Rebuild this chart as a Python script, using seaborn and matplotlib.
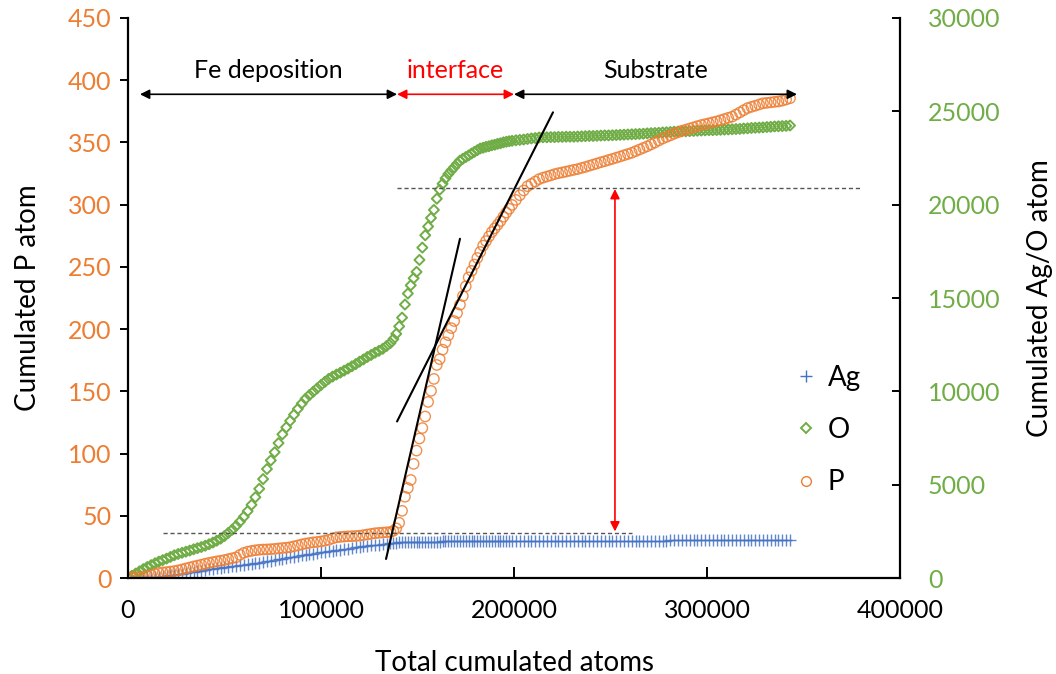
import matplotlib
matplotlib.use("Agg")
import matplotlib.pyplot as plt
import pandas as pd
import seaborn as sns
from matplotlib.lines import Line2D

# ---- cumulated atom counts along the depth profile ----
total_atoms = [
    0, 2000, 4000, 6000, 8000, 10000, 12000, 14000, 16000, 18000,
    20000, 22000, 24000, 26000, 28000, 30000, 32000, 34000, 36000, 38000,
    40000, 42000, 44000, 46000, 48000, 50000, 52000, 54000, 56000, 58000,
    60000, 62000, 64000, 66000, 68000, 70000, 72000, 74000, 76000, 78000,
    80000, 82000, 84000, 86000, 88000, 90000, 92000, 94000, 96000, 98000,
    100000, 102000, 104000, 106000, 108000, 110000, 112000, 114000, 116000, 118000,
    120000, 122000, 124000, 126000, 128000, 130000, 132000, 134000, 136000,
    137500, 139000, 140500, 142000, 143500, 145000, 146500, 148000, 149500, 151000,
    152500, 154000, 155500, 157000, 158500, 160000, 161500, 163000, 164500, 166000,
    167500, 169000, 170500, 172000, 173500, 175000, 176500, 178000, 179500, 181000,
    182500, 184000, 185500, 187000, 188500, 190000, 191500, 193000, 194500, 196000,
    197500, 199000,
    201000, 203000, 205000, 207000, 209000, 211000, 213000, 215000, 217000, 219000,
    221000, 223000, 225000, 227000, 229000, 231000, 233000, 235000, 237000, 239000,
    241000, 243000, 245000, 247000, 249000, 251000, 253000, 255000, 257000, 259000,
    261000, 263000, 265000, 267000, 269000, 271000, 273000, 275000, 277000, 279000,
    281000, 283000, 285000, 287000, 289000, 291000, 293000, 295000, 297000, 299000,
    301000, 303000, 305000, 307000, 309000, 311000, 313000, 315000, 317000, 319000,
    321000, 323000, 325000, 327000, 329000, 331000, 333000, 335000, 337000, 339000,
    341000, 343000,
]

cum_O = [
    0, 120, 240, 360, 480, 590, 690, 790, 880, 960,
    1040, 1130, 1220, 1290, 1350, 1410, 1470, 1540, 1600, 1660,
    1730, 1810, 1900, 2000, 2110, 2250, 2420, 2590, 2790, 3020,
    3280, 3580, 3920, 4330, 4780, 5300, 5840, 6300, 6740, 7230,
    7700, 8070, 8420, 8750, 9060, 9340, 9600, 9800, 9980, 10160,
    10340, 10510, 10670, 10790, 10900, 11000, 11110, 11220, 11340, 11460,
    11590, 11710, 11840, 11950, 12070, 12170, 12280, 12430, 12590,
    12800, 13080, 13480, 13950, 14650, 15240, 15680, 16060, 16400, 17040,
    17700, 18360, 18830, 19290, 19720, 20320, 20800, 21120, 21410, 21640,
    21830, 22000, 22190, 22360, 22460, 22550, 22640, 22740, 22830, 22920,
    23010, 23050, 23100, 23130, 23180, 23210, 23260, 23290, 23340, 23370,
    23400, 23420,
    23450, 23470, 23490, 23520, 23550, 23570, 23600, 23610, 23610, 23620,
    23620, 23630, 23630, 23640, 23640, 23640, 23650, 23660, 23670, 23680,
    23680, 23690, 23700, 23710, 23710, 23720, 23730, 23740, 23750, 23760,
    23770, 23780, 23790, 23800, 23820, 23830, 23840, 23850, 23870, 23880,
    23890, 23910, 23920, 23930, 23930, 23940, 23950, 23960, 23970, 23980,
    23990, 23990, 24000, 24010, 24020, 24030, 24040, 24050, 24060, 24080,
    24090, 24110, 24120, 24130, 24140, 24160, 24170, 24190, 24200, 24210,
    24220, 24240,
]

cum_P = [
    0, 0.5, 0.8, 0.8, 0.8, 1.5, 2.3, 3.2, 4.1, 4.5,
    4.8, 5.2, 5.6, 6.2, 6.9, 7.7, 8.5, 9.3, 10.0, 10.7,
    11.5, 12.2, 12.8, 13.4, 13.9, 14.5, 15.2, 15.9, 16.6, 18.6,
    20.2, 21.2, 21.8, 22.3, 22.7, 22.9, 23.0, 23.2, 23.4, 23.8,
    24.1, 24.4, 24.8, 25.5, 26.2, 27.0, 27.7, 28.2, 28.7, 29.0,
    29.4, 30.0, 30.7, 31.8, 32.7, 33.0, 33.3, 33.5, 33.6, 33.8,
    34.0, 34.5, 35.0, 35.5, 36.0, 36.3, 36.5, 36.8, 37.0,
    37.9, 39.9, 44.4, 54.0, 65.3, 72.3, 78.8, 91.7, 102.4, 112.1,
    120.5, 129.8, 141.5, 150.4, 160.0, 171.2, 175.9, 183.5, 189.4, 195.1,
    200.8, 206.5, 212.9, 219.6, 226.6, 234.4, 241.6, 246.8, 251.9, 257.2,
    262.0, 267.1, 270.7, 274.4, 278.0, 281.0, 283.9, 286.9, 290.3, 293.6,
    296.7, 299.8,
    303.8, 307.6, 311.4, 314.8, 316.7, 318.6, 320.5, 321.7, 322.6, 323.5,
    324.5, 325.3, 325.9, 326.6, 327.3, 328.0, 328.6, 329.5, 330.3, 331.3,
    332.2, 333.1, 334.1, 334.9, 335.9, 336.8, 337.8, 338.7, 339.7, 340.7,
    341.7, 343.0, 344.3, 345.6, 346.9, 348.4, 349.9, 351.6, 353.1, 354.4,
    355.7, 357.0, 358.2, 359.4, 360.3, 361.2, 362.1, 363.1, 364.0, 364.7,
    365.4, 366.2, 366.9, 367.8, 368.8, 369.8, 370.7, 372.4, 374.1, 375.9,
    377.6, 378.6, 379.5, 380.5, 381.5, 381.8, 382.2, 382.6, 382.9, 383.6,
    384.5, 385.5,
]

cum_Ag = [
    0, 5, 10, 20, 30, 35, 40, 50, 60, 90,
    120, 150, 180, 210, 240, 275, 310, 340, 370, 400,
    430, 460, 490, 520, 550, 580, 610, 635, 660, 690,
    720, 740, 760, 790, 820, 855, 890, 925, 960, 1000,
    1040, 1075, 1110, 1145, 1180, 1210, 1240, 1270, 1300, 1335,
    1370, 1400, 1430, 1460, 1490, 1520, 1550, 1580, 1610, 1645,
    1680, 1705, 1730, 1750, 1770, 1795, 1820, 1845, 1870,
    1880, 1900, 1910, 1920, 1920, 1930, 1930, 1930, 1940, 1940,
    1940, 1940, 1950, 1950, 1950, 1950, 1950, 1960, 1960, 1960,
    1960, 1960, 1960, 1970, 1970, 1970, 1970, 1970, 1970, 1970,
    1980, 1980, 1980, 1980, 1980, 1980, 1980, 1980, 1990, 1990,
    1990, 1990,
    1990, 1990, 1990, 1990, 1990, 1990, 1990, 1990, 2000, 2000,
    2000, 2000, 2000, 2000, 2000, 2000, 2000, 2000, 2000, 2000,
    2000, 2000, 2000, 2000, 2010, 2010, 2010, 2010, 2010, 2010,
    2010, 2010, 2010, 2010, 2010, 2010, 2010, 2010, 2010, 2010,
    2020, 2020, 2020, 2020, 2020, 2020, 2020, 2020, 2020, 2020,
    2020, 2020, 2020, 2020, 2020, 2020, 2030, 2030, 2030, 2030,
    2030, 2030, 2030, 2030, 2040, 2040, 2040, 2040, 2040, 2040,
    2040, 2040,
]

# region boundaries (total atoms) and their labels
region_edges = [6200, 139400, 200000, 346600]
region_names = ["Fe deposition", "interface", "Substrate"]
region_colors = ["black", "red", "black"]

# P plateau levels before and after the interface
p_level_low = 36.3
p_level_high = 313.7
low_level_span = [18100, 261000]
high_level_span = [139400, 380300]
step_marker_x = 252300

# tangent lines on the P rise: (x0, x1), (P0, P1)
tangent_lines = [
    ((133700, 172000), (15.3, 272.6)),
    ((139400, 220200), (125.8, 374.2)),
]

ORANGE = "#ED7D31"
GREEN = "#70AD47"
BLUE = "#4472C4"

df = pd.DataFrame({"total": total_atoms, "P": cum_P, "O": cum_O, "Ag": cum_Ag})

sns.set_theme(style="white")
plt.rcParams["font.family"] = ["Lato", "DejaVu Sans"]
plt.rcParams["text.color"] = "black"
plt.rcParams["axes.labelcolor"] = "black"

fig = plt.figure(figsize=(10.56, 6.74), dpi=100)
ax = fig.add_axes([0.1212, 0.1424, 0.7311, 0.8309])
ax2 = ax.twinx()

sns.scatterplot(data=df, x="total", y="Ag", ax=ax2, marker="+", s=70,
                color=BLUE, linewidth=1.0, alpha=0.85, legend=False)
sns.scatterplot(data=df, x="total", y="O", ax=ax2, marker="D", s=26,
                color=GREEN, facecolor="none", edgecolor=GREEN,
                linewidth=1.4, legend=False)
sns.scatterplot(data=df, x="total", y="P", ax=ax, marker="o", s=55,
                color=ORANGE, facecolor="none", edgecolor=ORANGE,
                linewidth=1.0, alpha=0.85, legend=False)

ax.set_zorder(ax2.get_zorder() + 1)
ax.patch.set_visible(False)

ax.set_xlim(0, 400000)
ax.set_ylim(0, 450)
ax2.set_ylim(0, 30000)
ax.set_xticks(range(0, 400001, 100000))
ax.set_yticks(range(0, 451, 50))
ax2.set_yticks(range(0, 30001, 5000))

ax.set_xlabel("Total cumulated atoms", fontsize=20, labelpad=20)
ax.set_ylabel("Cumulated P atom", fontsize=20, labelpad=19)
ax2.set_ylabel("Cumulated Ag/O atom", fontsize=20, labelpad=19)

for a in (ax, ax2):
    for side in ("top", "left", "right", "bottom"):
        a.spines[side].set_visible(False)
ax.spines["left"].set_visible(True)
ax.spines["bottom"].set_visible(True)
ax2.spines["right"].set_visible(True)
for sp in (ax.spines["left"], ax.spines["bottom"], ax2.spines["right"]):
    sp.set_color("black")
    sp.set_linewidth(1.6)

ax.tick_params(axis="x", direction="in", bottom=True, length=8, width=1.4,
               labelsize=18, pad=15, colors="black")
ax.tick_params(axis="y", direction="out", left=True, length=6, width=1.4,
               labelsize=18, pad=6, color="black", labelcolor=ORANGE)
ax2.tick_params(axis="y", direction="in", right=True, length=6, width=1.4,
                labelsize=18, pad=20, color="black", labelcolor=GREEN)
ax.grid(False)
ax2.grid(False)

# region arrows and labels
arrow_y = 388.7
for i, (name, col) in enumerate(zip(region_names, region_colors)):
    x0, x1 = region_edges[i], region_edges[i + 1]
    ax.annotate("", xy=(x1, arrow_y), xytext=(x0, arrow_y),
                arrowprops=dict(arrowstyle="<|-|>", color=col, lw=1.2,
                                mutation_scale=14, shrinkA=0, shrinkB=0))
    ax.text((x0 + x1) / 2, 408, name, color=col, fontsize=18,
            ha="center", va="center")

# plateau levels
ax.plot(low_level_span, [p_level_low] * 2, ls=(0, (3, 2)), color="#555555", lw=1.0)
ax.plot(high_level_span, [p_level_high] * 2, ls=(0, (3, 2)), color="#555555", lw=1.0)
ax.annotate("", xy=(step_marker_x, p_level_high), xytext=(step_marker_x, p_level_low),
            arrowprops=dict(arrowstyle="<|-|>", color="red", lw=1.2,
                            mutation_scale=14, shrinkA=1, shrinkB=1))

for xs, ys in tangent_lines:
    ax.plot(xs, ys, color="black", lw=1.5)

handles = [
    Line2D([], [], ls="none", marker="+", color=BLUE, markersize=8, markeredgewidth=1.0),
    Line2D([], [], ls="none", marker="D", color=GREEN, markerfacecolor="none",
           markersize=5, markeredgewidth=1.4),
    Line2D([], [], ls="none", marker="o", color=ORANGE, markerfacecolor="none",
           markersize=7, markeredgewidth=1.0),
]
ax.legend(handles, ["Ag", "O", "P"], loc="center left",
          bbox_to_anchor=(0.726, 0.362), bbox_transform=fig.transFigure,
          frameon=False, fontsize=20, labelspacing=0.95, handlelength=1.0,
          handletextpad=0.3)

fig.savefig("out.png", dpi=100)
